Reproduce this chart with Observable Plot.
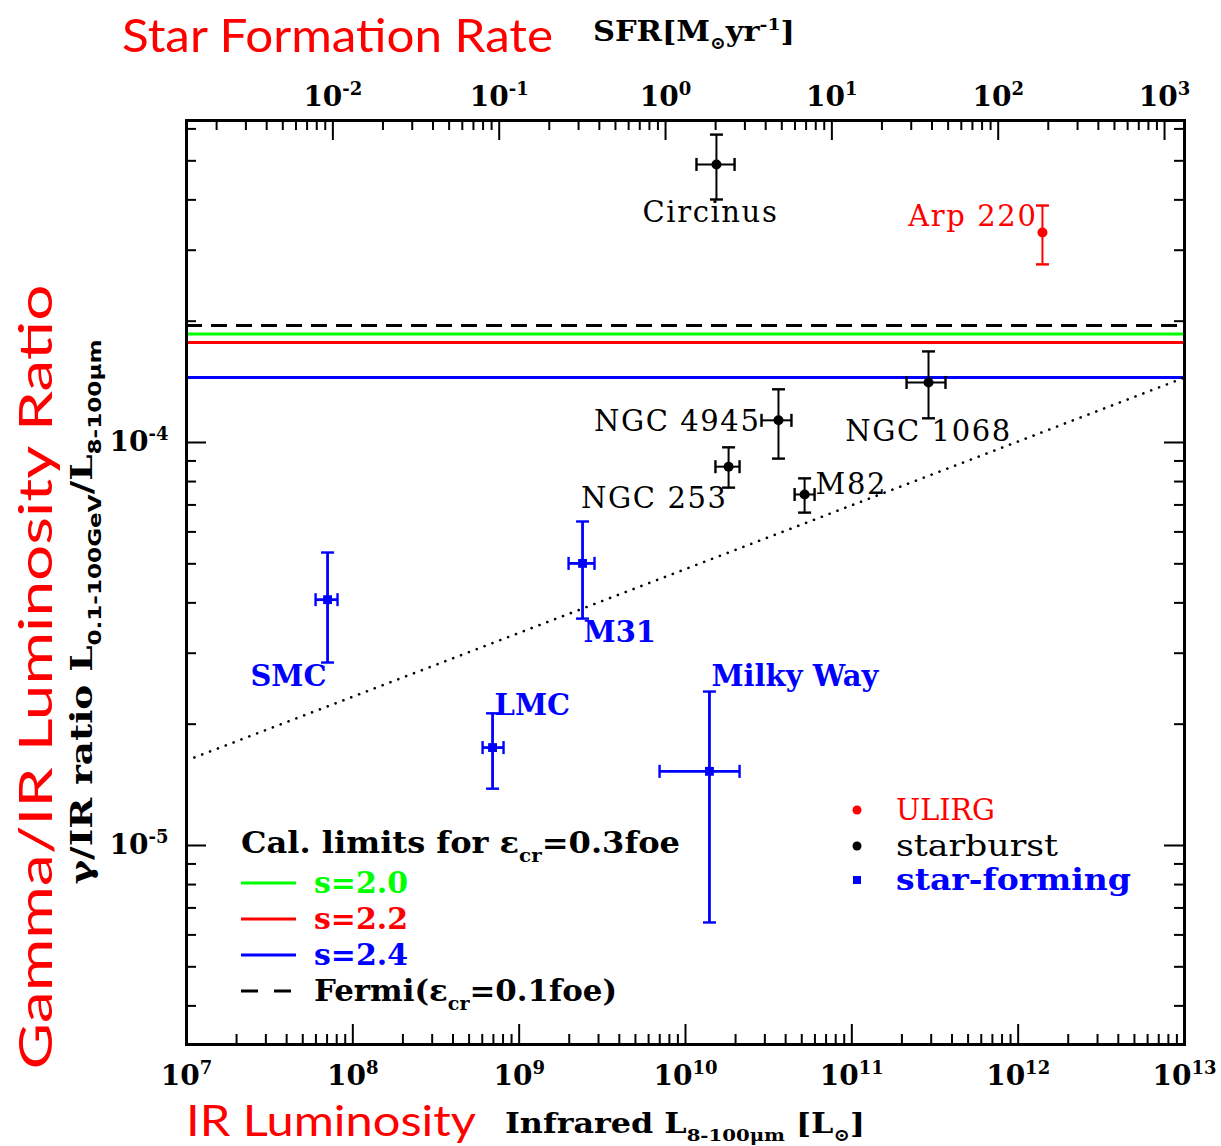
<!DOCTYPE html>
<html>
<head>
<meta charset="utf-8">
<script src="https://cdn.jsdelivr.net/npm/d3@7"></script>
<script src="https://cdn.jsdelivr.net/npm/@observablehq/plot@0.6"></script>
<style>
  html,body{margin:0;padding:0;background:#fff;}
  #chart svg{display:block;}
</style>
</head>
<body>
<div id="chart"></div>
<script>
// ---------------- data ----------------
const galaxyNames  = ["Circinus","Arp 220","NGC 4945","NGC 1068","NGC 253","M82","SMC","M31","LMC","Milky Way"];
const galaxyClass  = ["starburst","ULIRG","starburst","starburst","starburst","starburst","star-forming","star-forming","star-forming","star-forming"];
const logLir       = [10.186, 12.146, 10.559, 11.461, 10.259, 10.716, 7.848, 9.381, 8.840, 10.144];
const logLirLow    = [10.066, null,   10.457, 11.329, 10.180, 10.656, 7.776, 9.297, 8.780,  9.844];
const logLirHigh   = [10.295, null,   10.637, 11.563, 10.325, 10.776, 7.908, 9.453, 8.906, 10.325];
const logRatio     = [-3.310, -3.479, -3.945, -3.851, -4.060, -4.129, -4.390, -4.300, -4.757, -4.816];
const logRatioLow  = [-3.397, -3.558, -4.040, -3.940, -4.112, -4.174, -4.546, -4.437, -4.859, -5.191];
const logRatioHigh = [-3.236, -3.412, -3.868, -3.774, -4.012, -4.089, -4.273, -4.196, -4.672, -4.618];

const limitNames = ["s=2.0", "s=2.2", "s=2.4", "Fermi"];
const limitRatio = [1.86e-4, 1.77e-4, 1.45e-4, 1.95e-4];

const trendLir   = [1e7, 1e13];
const trendRatio = [10 ** -4.789, 10 ** -3.839];

const xTickExp   = [7, 8, 9, 10, 11, 12, 13];
const yTickExp   = [-5, -4];
const sfrTickExp = [-2, -1, 0, 1, 2, 3];
const logLirAtUnitSfr = 9.88;   // top axis: SFR = 1 Msun/yr at this log L_IR

const classNames = ["ULIRG", "starburst", "star-forming"];

// ---------------- styles / layout ----------------
const classColors = ["#ff0000", "#000000", "#0000ff"];
const limitColors = ["#00ff00", "#ff0000", "#0000ff", "#000000"];
const W = 1221, H = 1146, mL = 186, mR = 37, mT = 120, mB = 102;
const FW = W - mL - mR, FH = H - mT - mB;
const labelLayout = [
  {dx: -6,  dy: 48,  anchor: "middle"},
  {dx: -5,  dy: -16, anchor: "end"},
  {dx: -18, dy: 1,   anchor: "end"},
  {dx: 0,   dy: 49,  anchor: "middle"},
  {dx: -1,  dy: 32,  anchor: "end"},
  {dx: 11,  dy: -10, anchor: "start"},
  {dx: -1,  dy: 77,  anchor: "end"},
  {dx: 1,   dy: 69,  anchor: "start"},
  {dx: 2,   dy: -42, anchor: "start"},
  {dx: 2,   dy: -95, anchor: "start"}
];
const SERIF = "DejaVu Serif";

const colorOf = c => classColors[classNames.indexOf(c)];
const rows = galaxyNames.map((name, i) => ({
  name, cls: galaxyClass[i], color: colorOf(galaxyClass[i]),
  L: 10 ** logLir[i],
  Llo: logLirLow[i] == null ? null : 10 ** logLirLow[i],
  Lhi: logLirHigh[i] == null ? null : 10 ** logLirHigh[i],
  r: 10 ** logRatio[i], rlo: 10 ** logRatioLow[i], rhi: 10 ** logRatioHigh[i]
}));
const withXerr = rows.filter(d => d.Llo != null);
const isSF = d => d.cls === "star-forming";

const yDomain = [10 ** -5.4938, 10 ** -3.201];
const xDomain = [1e7, 1e13];

function minorTicks(lo, hi, e0, e1) {
  const out = [];
  for (let e = e0; e <= e1; e++) for (let m = 2; m <= 9; m++) {
    const v = m * 10 ** e; if (v > lo && v < hi) out.push(v);
  }
  return out;
}
const xMajor = xTickExp.map(e => 10 ** e);
const xMinor = minorTicks(xDomain[0], xDomain[1], 7, 12);
const yMajor = yTickExp.map(e => 10 ** e);
const yMinor = minorTicks(yDomain[0], yDomain[1], -6, -4);
const sfrToL = s => s * 10 ** logLirAtUnitSfr;
const sfrMajor = sfrTickExp.map(e => sfrToL(10 ** e));
const sfrMinor = minorTicks(xDomain[0] / 10 ** logLirAtUnitSfr, xDomain[1] / 10 ** logLirAtUnitSfr, -3, 3).map(sfrToL);

const hCap = {draw(ctx) { ctx.moveTo(-6.5, 0); ctx.lineTo(6.5, 0); }};
const vCap = {draw(ctx) { ctx.moveTo(0, -6.5); ctx.lineTo(0, 6.5); }};

const limitRows = limitNames.map((n, i) => ({name: n, value: limitRatio[i], color: limitColors[i]}));
const trendRows = trendLir.map((x, i) => ({x, y: trendRatio[i]}));

const MAJ = 20, MIN = 10;
const tickFont = {fontFamily: SERIF, fontSize: 28, fontWeight: "bold", fill: "black"};

const marks = [
  // calorimetric limits
  Plot.ruleY(limitRows.filter(d => d.name !== "Fermi"), {y: "value", stroke: "color", strokeWidth: 3}),
  Plot.ruleY(limitRows.filter(d => d.name === "Fermi"), {y: "value", stroke: "color", strokeWidth: 3, strokeDasharray: "16,9"}),
  // dotted trend
  Plot.line(trendRows, {x: "x", y: "y", stroke: "black", strokeWidth: 2.6, strokeDasharray: "0.1,8.3", strokeLinecap: "round"}),
  // error bars
  Plot.ruleX(rows.filter(d => !isSF(d)), {x: "L", y1: "rlo", y2: "rhi", stroke: "color", strokeWidth: 2}),
  Plot.ruleX(rows.filter(isSF), {x: "L", y1: "rlo", y2: "rhi", stroke: "color", strokeWidth: 2.8}),
  Plot.ruleY(withXerr.filter(d => !isSF(d)), {y: "r", x1: "Llo", x2: "Lhi", stroke: "color", strokeWidth: 2}),
  Plot.ruleY(withXerr.filter(isSF), {y: "r", x1: "Llo", x2: "Lhi", stroke: "color", strokeWidth: 2.8}),
  Plot.dot(rows, {x: "L", y: "rlo", symbol: hCap, fill: "none", stroke: "color", strokeWidth: 2.4}),
  Plot.dot(rows, {x: "L", y: "rhi", symbol: hCap, fill: "none", stroke: "color", strokeWidth: 2.4}),
  Plot.dot(withXerr, {x: "Llo", y: "r", symbol: vCap, fill: "none", stroke: "color", strokeWidth: 2.4}),
  Plot.dot(withXerr, {x: "Lhi", y: "r", symbol: vCap, fill: "none", stroke: "color", strokeWidth: 2.4}),
  // markers
  Plot.dot(rows.filter(d => !isSF(d)), {x: "L", y: "r", r: 5, fill: "color", stroke: "none"}),
  Plot.dot(rows.filter(isSF), {x: "L", y: "r", r: 5, symbol: "square", fill: "color", stroke: "none"}),
  // galaxy labels
  ...rows.map((d, i) => Plot.text([d], {
    x: "L", y: "r", text: "name", fill: d.color,
    dx: labelLayout[i].dx, dy: labelLayout[i].dy, textAnchor: labelLayout[i].anchor,
    fontFamily: SERIF, fontSize: 29, fontWeight: isSF(d) ? "bold" : "normal"
  })),
  // ticks (inward) on all four sides
  Plot.ruleX(xMajor, {x: d => d, insetTop: FH - MAJ, strokeWidth: 2}),
  Plot.ruleX(xMinor, {x: d => d, insetTop: FH - MIN, strokeWidth: 2}),
  Plot.ruleX(sfrMajor, {x: d => d, insetBottom: FH - MAJ, strokeWidth: 2}),
  Plot.ruleX(sfrMinor, {x: d => d, insetBottom: FH - MIN, strokeWidth: 2}),
  Plot.ruleY(yMajor, {y: d => d, insetRight: FW - MAJ, strokeWidth: 2}),
  Plot.ruleY(yMinor, {y: d => d, insetRight: FW - MIN, strokeWidth: 2}),
  Plot.ruleY(yMajor, {y: d => d, insetLeft: FW - MAJ, strokeWidth: 2}),
  Plot.ruleY(yMinor, {y: d => d, insetLeft: FW - MIN, strokeWidth: 2}),
  // tick labels
  Plot.text(xMajor, {x: d => d, frameAnchor: "bottom", dy: 40, text: d => "10^" + Math.round(Math.log10(d)), ...tickFont}),
  Plot.text(sfrMajor, {x: d => d, frameAnchor: "top", dy: -34, text: (d, i) => "10^" + sfrTickExp[i], ...tickFont}),
  Plot.text(yMajor, {y: d => d, frameAnchor: "left", dx: -18, textAnchor: "end", text: d => "10^" + Math.round(Math.log10(d)), ...tickFont}),
  Plot.frame({stroke: "black", strokeWidth: 3})
];

const svgNode = Plot.plot({
  width: W, height: H,
  marginTop: mT, marginBottom: mB, marginLeft: mL, marginRight: mR,
  x: {type: "log", domain: xDomain, axis: null},
  y: {type: "log", domain: yDomain, axis: null},
  color: {type: "identity"},
  style: {background: "white", fontFamily: SERIF},
  marks
});
document.getElementById("chart").appendChild(svgNode);
const svg = d3.select(svgNode);

// superscript exponents in tick labels; letter spacing for plain labels
svg.selectAll("text").each(function () {
  const el = d3.select(this);
  const txt = this.textContent;
  const gi = galaxyNames.indexOf(txt);
  if (gi >= 0) { if (galaxyClass[gi] !== "star-forming") el.attr("letter-spacing", 1.6); return; }
  const m = txt.match(/^10\^(.+)$/);
  if (!m) return;
  const isY = el.attr("text-anchor") === "end";
  el.text(null);
  if (isY) el.attr("letter-spacing", 3);
  el.append("tspan").text("10");
  el.append("tspan").attr("dy", -11).attr("font-size", 18).text(m[1]);
});

// rich text helper (sub/superscripts)
function richText(x, y, parts, o) {
  const t = svg.append("text").attr("x", x).attr("y", y)
    .attr("fill", o.fill || "black").attr("font-family", o.family || SERIF)
    .attr("font-size", o.size).attr("font-weight", o.weight || "normal")
    .attr("text-anchor", o.anchor || "start");
  if (o.rotate) t.attr("transform", `rotate(${o.rotate},${x},${y})`);
  if (o.length) t.attr("textLength", o.length).attr("lengthAdjust", "spacingAndGlyphs");
  let shift = 0;
  for (const p of parts) {
    const [str, mode, fam] = typeof p === "string" ? [p, null, null] : p;
    const target = mode === "sub" ? o.size * 0.3 : mode === "sup" ? -o.size * 0.4 : 0;
    const ts = t.append("tspan").text(str);
    if (target !== shift) ts.attr("dy", target - shift);
    shift = target;
    if (mode) ts.attr("font-size", o.size * 0.62);
    if (fam) ts.attr("font-family", fam);
  }
  return t;
}
const SANS_T = "Lato";
// axis titles
richText(122, 52, ["Star Formation Rate"], {size: 47, fill: "#ff0000", family: SANS_T, length: 431});
richText(593, 41, ["SFR[M", ["⊙", "sub"], "yr", ["-1", "sup"], "]"], {size: 28, weight: "bold", length: 202});
richText(186, 1136, ["IR Luminosity"], {size: 43, fill: "#ff0000", family: SANS_T, length: 290});
richText(505, 1133, ["Infrared L", ["8-100μm", "sub"], " [L", ["⊙", "sub"], "]"], {size: 28, weight: "bold", length: 360});
richText(52, 677, ["Gamma/IR Luminosity Ratio"], {size: 47, fill: "#ff0000", family: SANS_T, anchor: "middle", rotate: -90, length: 785});
richText(92, 612, ["γ/IR ratio L", ["0.1-100GeV", "sub", "DejaVu Sans"], "/L", ["8-100μm", "sub", "DejaVu Sans"]],
  {size: 29, weight: "bold", anchor: "middle", rotate: -90, length: 545});

// legend: calorimetric limits
richText(241, 853, ["Cal. limits for ε", ["cr", "sub"], "=0.3foe"], {size: 29, weight: "bold", length: 439});
const legLines = [
  {label: ["s=2.0"], color: "#00ff00", y: 883, dash: null, len: 94},
  {label: ["s=2.2"], color: "#ff0000", y: 919, dash: null, len: 94},
  {label: ["s=2.4"], color: "#0000ff", y: 955, dash: null, len: 94},
  {label: ["Fermi(ε", ["cr", "sub"], "=0.1foe)"], color: "#000000", y: 991, dash: "17,16", len: 303}
];
legLines.forEach(l => {
  const ln = svg.append("line").attr("x1", 241).attr("x2", 296).attr("y1", l.y).attr("y2", l.y)
    .attr("stroke", l.color).attr("stroke-width", 3);
  if (l.dash) ln.attr("stroke-dasharray", l.dash);
  richText(314, l.y + 10, l.label, {size: 29, weight: "bold", fill: l.color, length: l.len});
});

// legend: galaxy classes
const classLegend = [
  {name: "ULIRG", y: 810, shape: "circle", weight: "normal", len: 99},
  {name: "starburst", y: 846, shape: "circle", weight: "normal", len: 162},
  {name: "star-forming", y: 880, shape: "square", weight: "bold", len: 235}
];
classLegend.forEach(c => {
  const col = colorOf(c.name);
  if (c.shape === "circle") svg.append("circle").attr("cx", 857).attr("cy", c.y).attr("r", 4.5).attr("fill", col);
  else svg.append("rect").attr("x", 853).attr("y", c.y - 4).attr("width", 8).attr("height", 8).attr("fill", col);
  richText(896, c.y + 10, [c.name], {size: 29, weight: c.weight, fill: col, length: c.len});
});
</script>
</body>
</html>
